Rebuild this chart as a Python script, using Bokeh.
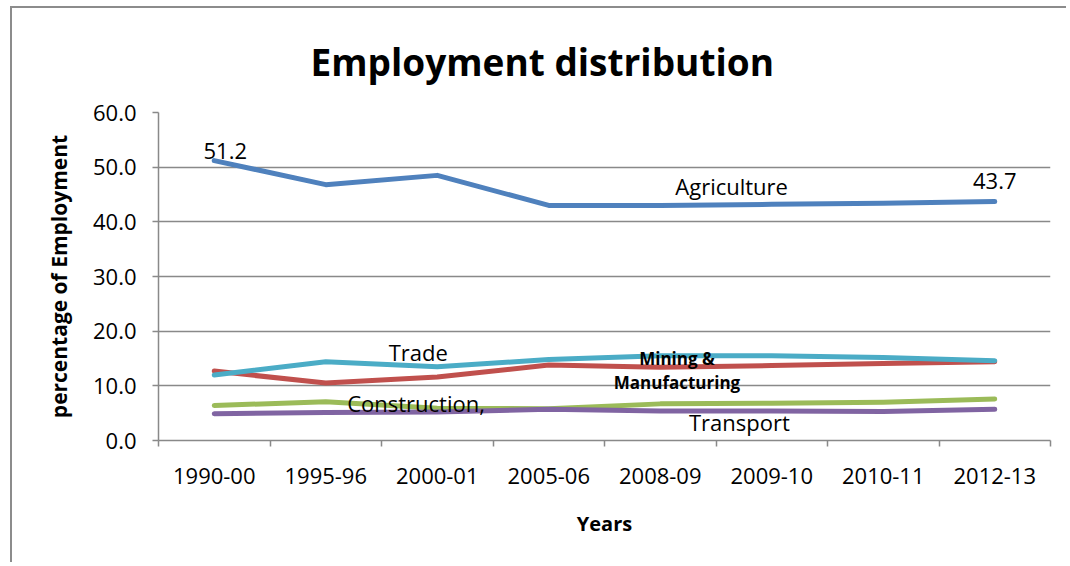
from bokeh.plotting import figure
from bokeh.models import (Range1d, LinearAxis, FixedTicker, Label,
                          NumeralTickFormatter, ColumnDataSource)
from bokeh.embed import file_html
from bokeh.resources import INLINE

# ---- data ----
years = ["1990-00", "1995-96", "2000-01", "2005-06", "2008-09", "2009-10", "2010-11", "2012-13"]
agriculture = [51.2, 46.8, 48.5, 43.0, 43.0, 43.2, 43.4, 43.7]
trade = [12.0, 14.4, 13.5, 14.8, 15.5, 15.5, 15.2, 14.6]
mining_manufacturing = [12.7, 10.5, 11.6, 13.8, 13.4, 13.7, 14.1, 14.4]
construction = [6.4, 7.1, 5.9, 5.8, 6.7, 6.8, 7.0, 7.6]
transport = [4.9, 5.1, 5.2, 5.7, 5.4, 5.4, 5.3, 5.7]
y_ticks = [0, 10, 20, 30, 40, 50, 60]
title_text = "Employment distribution"

FONT = "Open Sans"
GRID = "#898989"

# category slots: each year occupies one unit, centred at i + 0.5
pos = [i + 0.5 for i in range(len(years))]
bounds = list(range(len(years) + 1))

src = ColumnDataSource(dict(year=years, x=pos, agriculture=agriculture, trade=trade,
                            mining_manufacturing=mining_manufacturing,
                            construction=construction, transport=transport))

p = figure(width=1056, height=556,
           x_range=Range1d(0, len(years)), y_range=Range1d(0, 60),
           output_backend="svg", toolbar_location=None,
           x_axis_location=None, y_axis_location="left",
           min_border_left=146, min_border_right=18,
           min_border_top=104, min_border_bottom=124)
p.outline_line_color = None
p.background_fill_color = "white"
p.border_fill_color = "white"
p.styles = {"margin-left": "10px", "margin-top": "6px",
            "border-left": "2px solid #8c8c8c", "border-top": "2px solid #8c8c8c"}

# title
p.title.text = title_text
p.title.text_font = FONT
p.title.text_font_size = "37px"
p.title.text_font_style = "bold"
p.title.text_color = "black"
p.title.align = "left"
p.title.offset = 152
p.title.standoff = 51

# y axis
yax = p.yaxis[0]
yax.ticker = FixedTicker(ticks=y_ticks)
yax.formatter = NumeralTickFormatter(format="0.0")
yax.axis_line_color = GRID
yax.axis_line_width = 1.5
yax.major_tick_line_color = GRID
yax.major_tick_line_width = 1.5
yax.major_tick_out = 6
yax.major_tick_in = 0
yax.minor_tick_line_color = None
yax.major_label_text_font = FONT
yax.major_label_text_font_size = "22px"
yax.major_label_text_color = "black"
yax.major_label_standoff = 16
yax.axis_label = "percentage of Employment"
yax.axis_label_text_font = FONT
yax.axis_label_text_font_size = "21px"
yax.axis_label_text_font_style = "bold"
yax.axis_label_text_color = "black"
yax.axis_label_standoff = 17

p.ygrid.ticker = FixedTicker(ticks=y_ticks)
p.ygrid.grid_line_color = GRID
p.ygrid.grid_line_width = 1.5
p.xgrid.visible = False

# x axis: labels at slot centres, tick marks at slot boundaries
xax = LinearAxis(ticker=FixedTicker(ticks=pos, minor_ticks=bounds),
                 major_label_overrides={x: y for x, y in zip(pos, years)},
                 axis_line_color=GRID, axis_line_width=1.5,
                 major_tick_line_color=None, major_tick_out=6, major_tick_in=0,
                 minor_tick_line_color=GRID, minor_tick_line_width=1.5,
                 minor_tick_out=6, minor_tick_in=0,
                 major_label_text_font=FONT,
                 major_label_text_font_size="22px",
                 major_label_text_color="black",
                 major_label_standoff=21,
                 axis_label="Years",
                 axis_label_text_font=FONT,
                 axis_label_text_font_size="20px",
                 axis_label_text_font_style="bold",
                 axis_label_text_color="black",
                 axis_label_standoff=23)
p.add_layout(xax, "below")

# series
series = [
    ("construction", "#9BBB59"),
    ("transport", "#8064A2"),
    ("mining_manufacturing", "#C0504D"),
    ("trade", "#4BACC6"),
    ("agriculture", "#4F81BD"),
]
for name, col in series:
    p.line(x="x", y=name, source=src, line_color=col, line_width=5,
           line_join="round", line_cap="round")

def lab(text, x, y, size="22px", style="normal", xo=0, yo=0):
    p.add_layout(Label(x=x, y=y, text=text, x_offset=xo, y_offset=yo,
                       text_font=FONT, text_font_size=size, text_font_style=style,
                       text_color="black", text_align="center", text_baseline="middle"))

# data labels on agriculture end points
lab(f"{agriculture[0]:.1f}", pos[0], agriculture[0], xo=11, yo=10)
lab(f"{agriculture[-1]:.1f}", pos[-1], agriculture[-1], xo=0, yo=21)

# series labels
lab("Agriculture", 5.14, 46.6)
lab("Trade", 2.33, 16.1)
lab("Construction,", 2.31, 6.95)
lab("Transport", 5.21, 3.3)
lab("Mining &", 4.65, 15.0, size="17px", style="bold")
lab("Manufacturing", 4.65, 10.6, size="17px", style="bold")

open("out.html", "w").write(file_html(p, INLINE))
